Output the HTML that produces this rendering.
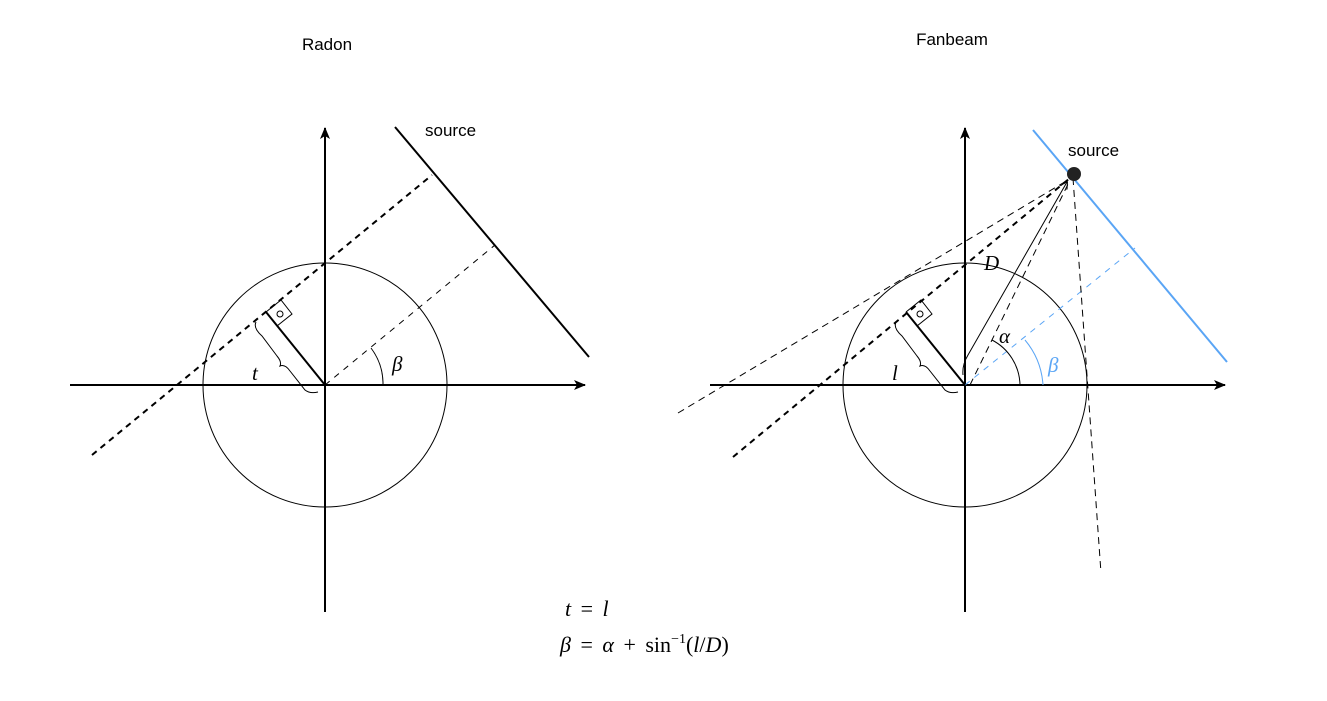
<!DOCTYPE html>
<html><head><meta charset="utf-8"><style>
html,body{margin:0;padding:0;background:#fff;width:1327px;height:701px;overflow:hidden}
svg{display:block}
.s{font-family:"Liberation Sans",sans-serif;font-size:17px}
.m{font-family:"Liberation Serif",serif;font-size:21px;font-style:italic}
.e{font-family:"Liberation Serif",serif;font-size:22px;font-style:italic;word-spacing:4px}
</style></head><body>
<svg width="1327" height="701" viewBox="0 0 1327 701">
<defs>
<marker id="ar" markerWidth="12" markerHeight="12" refX="11" refY="6" orient="auto" markerUnits="userSpaceOnUse"><path d="M0,1 L12,6 L0,11 L3,6 z" fill="#000"/></marker>
<marker id="ar2" markerWidth="8" markerHeight="8" refX="7" refY="4" orient="auto" markerUnits="userSpaceOnUse"><path d="M0,0 L8,4 L0,8" fill="none" stroke="#000"/></marker>
</defs>
<g>
<text x="327" y="50" class="s" text-anchor="middle">Radon</text>
<line x1="70" y1="385" x2="585" y2="385" stroke="#000" stroke-width="2" marker-end="url(#ar)"/>
<line x1="325" y1="612" x2="325" y2="128" stroke="#000" stroke-width="2" marker-end="url(#ar)"/>
<circle cx="325" cy="385" r="122" fill="none" stroke="#000"/>
<line x1="92" y1="455" x2="432" y2="175" stroke="#000" stroke-width="2" stroke-dasharray="6,5"/>
<line x1="325" y1="385" x2="495" y2="245" stroke="#000" stroke-dasharray="6,6"/>
<line x1="395" y1="127" x2="589" y2="357" stroke="#000" stroke-width="2"/>
<text x="425" y="136" class="s">source</text>
<line x1="325" y1="385" x2="266" y2="312" stroke="#000" stroke-width="2"/>
<path d="M266,312 L281,300 L292,314 L277,326" fill="none" stroke="#000"/>
<circle cx="280" cy="314" r="3" fill="none" stroke="#000"/>
<path d="M256,322 Q253,328 262,336 L277,356 Q282,362 280,366 Q285,364 290,371 L305,390 Q310,394 318,392" fill="none" stroke="#000"/>
<text x="252" y="380" class="m">t</text>
<path d="M371,348 A60,60 0 0 1 383,385" fill="none" stroke="#000"/>
<text x="392" y="371" class="m">β</text>
</g>
<g>
<text x="952" y="45" class="s" text-anchor="middle">Fanbeam</text>
<line x1="710" y1="385" x2="1225" y2="385" stroke="#000" stroke-width="2" marker-end="url(#ar)"/>
<line x1="965" y1="612" x2="965" y2="128" stroke="#000" stroke-width="2" marker-end="url(#ar)"/>
<circle cx="965" cy="385" r="122" fill="none" stroke="#000"/>
<line x1="1033" y1="130" x2="1227" y2="362" stroke="#5aa5f5" stroke-width="2"/>
<line x1="965" y1="385" x2="1135" y2="248" stroke="#5aa5f5" stroke-dasharray="6,6"/>
<line x1="733" y1="457" x2="1070" y2="178" stroke="#000" stroke-width="2" stroke-dasharray="6,5"/>
<line x1="678" y1="413" x2="1073" y2="177" stroke="#000" stroke-dasharray="7,5"/>
<line x1="1073" y1="178" x2="1101" y2="573" stroke="#000" stroke-dasharray="7,5"/>
<line x1="970" y1="385" x2="1070" y2="180" stroke="#000" stroke-dasharray="7,5"/>
<path d="M963,375 Q962,365 968,355 L1067,182" fill="none" stroke="#000" marker-end="url(#ar2)"/>
<circle cx="1074" cy="174" r="7" fill="#222"/>
<text x="1068" y="156" class="s">source</text>
<text x="984" y="270" class="m">D</text>
<line x1="965" y1="385" x2="906" y2="312" stroke="#000" stroke-width="2"/>
<path d="M906,312 L921,300 L932,314 L917,326" fill="none" stroke="#000"/>
<circle cx="920" cy="314" r="3" fill="none" stroke="#000"/>
<path d="M896,322 Q893,328 902,336 L917,356 Q922,362 920,366 Q925,364 930,371 L945,390 Q950,394 958,392" fill="none" stroke="#000"/>
<text x="892" y="380" class="m">l</text>
<path d="M992,340 A52,52 0 0 1 1020,385" fill="none" stroke="#000"/>
<text x="999" y="343" class="m">α</text>
<path d="M1025,340 A78,78 0 0 1 1043,385" fill="none" stroke="#5aa5f5"/>
<text x="1048" y="372" class="m" fill="#5aa5f5">β</text>
</g>
<text x="565" y="616" class="e">t <tspan font-style="normal">=</tspan> l</text>
<text x="560" y="652" class="e">β <tspan font-style="normal">=</tspan> α <tspan font-style="normal">+</tspan> <tspan font-style="normal">sin</tspan><tspan font-style="normal" font-size="14" dy="-9">−1</tspan><tspan font-style="normal" dy="9">(</tspan>l<tspan font-style="normal">/</tspan>D<tspan font-style="normal">)</tspan></text>
</svg>
</body></html>
